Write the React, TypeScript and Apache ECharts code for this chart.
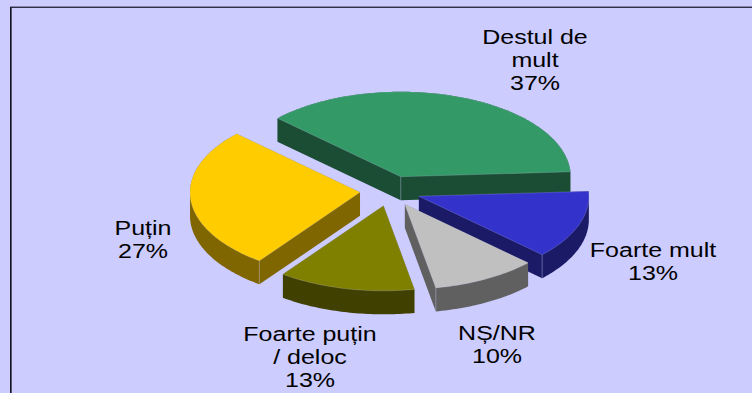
import React, { useEffect, useRef } from "react";
import * as echarts from "echarts";

const categories = ["Destul de\nmult", "Foarte mult", "NȘ/NR", "Foarte puțin\n/ deloc", "Puțin"];
const values = [37, 13, 10, 13, 27];
const topColors = ["#339966", "#3333CC", "#C0C0C0", "#808000", "#FFCC00"];
const sideColors = ["#1A4D33", "#1A1A66", "#606060", "#404000", "#806600"];
const labelAnchors = [[535, 60], [653, 262], [497, 345], [310, 357], [143, 240]];
const seamKinds = ["apex", "end", "end", "", "start"];
const drawOrder = [0, 4, 1, 3, 2];

const CX = 390.3, CY = 191, RX = 170, RY = 85, EXPLODE = 30.4, DEPTH = 23.5, START = 136.5;
const FONT_H = 20, STRETCH = 1.25;
const total = values.reduce((a, b) => a + b, 0);

function hull(points: number[][]) {
  const p = [...points].sort((a, b) => a[0] - b[0] || a[1] - b[1]);
  const cross = (o: number[], a: number[], b: number[]) =>
    (a[0] - o[0]) * (b[1] - o[1]) - (a[1] - o[1]) * (b[0] - o[0]);
  const lo: number[][] = [];
  for (const q of p) {
    while (lo.length >= 2 && cross(lo[lo.length - 2], lo[lo.length - 1], q) <= 0) lo.pop();
    lo.push(q);
  }
  const up: number[][] = [];
  for (let i = p.length - 1; i >= 0; i--) {
    const q = p[i];
    while (up.length >= 2 && cross(up[up.length - 2], up[up.length - 1], q) <= 0) up.pop();
    up.push(q);
  }
  return lo.slice(0, -1).concat(up.slice(0, -1));
}

function sliceGeometry(index: number) {
  let before = 0;
  for (let i = 0; i < index; i++) before += values[i];
  const a0 = START - (before / total) * 360;
  const a1 = a0 - (values[index] / total) * 360;
  const mid = ((a0 + a1) / 2) * (Math.PI / 180);
  const ox = CX + EXPLODE * Math.cos(mid);
  const oy = CY - EXPLODE * 0.5 * Math.sin(mid);
  const top: number[][] = [[ox, oy]];
  const steps = Math.max(8, Math.round(a0 - a1));
  for (let s = 0; s <= steps; s++) {
    const t = ((a0 + ((a1 - a0) * s) / steps) * Math.PI) / 180;
    top.push([ox + RX * Math.cos(t), oy - RY * Math.sin(t)]);
  }
  return { top };
}

export default function App() {
  const ref = useRef<HTMLDivElement>(null);
  useEffect(() => {
    const chart = echarts.init(ref.current!, undefined, { renderer: "svg" });
    chart.setOption({
      animation: false,
      backgroundColor: "#CCCCFF",
      graphic: [
        { type: "line", shape: { x1: 10, y1: 6.5, x2: 752, y2: 6.5 }, style: { stroke: "#8484AC", lineWidth: 1 } },
        { type: "line", shape: { x1: 10, y1: 7.5, x2: 752, y2: 7.5 }, style: { stroke: "#303048", lineWidth: 1 } },
        { type: "line", shape: { x1: 10.5, y1: 393, x2: 10.5, y2: 7 }, style: { stroke: "#14141E", lineWidth: 1 } },
        { type: "line", shape: { x1: 11.5, y1: 393, x2: 11.5, y2: 8 }, style: { stroke: "#55556E", lineWidth: 1 } },
      ],
      series: [
        {
          type: "custom",
          coordinateSystem: "none",
          data: drawOrder.map((i) => ({ name: categories[i], value: [i, values[i]] })),
          renderItem: (_p: any, api: any) => {
            const i = api.value(0) as number;
            const { top } = sliceGeometry(i);
            const bottom = top.map(([x, y]) => [x, y + DEPTH]);
            const [lx, ly] = labelAnchors[i];
            const kind = seamKinds[i];
            const seam = kind === "apex" ? top[0] : kind === "start" ? top[1] : kind === "end" ? top[top.length - 1] : null;
            const children: any[] = [
              { type: "polygon", shape: { points: hull(top.concat(bottom)) }, style: { fill: sideColors[i] } },
            ];
            if (seam) {
              children.push({
                type: "line",
                shape: { x1: seam[0], y1: seam[1], x2: seam[0], y2: seam[1] + DEPTH },
                style: { stroke: "rgba(204,204,255,0.4)", lineWidth: 1 },
              });
            }
            children.push(
              {
                type: "polygon",
                shape: { points: top },
                style: { fill: topColors[i], stroke: "rgba(204,204,255,0.3)", lineWidth: 0.75 },
              },
              {
                type: "text",
                x: lx,
                y: ly,
                scaleX: STRETCH,
                style: {
                  text: `${categories[i]}\n${values[i]}%`,
                  fill: "#000000",
                  font: `${FONT_H}px "Liberation Sans", Arial, sans-serif`,
                  lineHeight: 23,
                  align: "center",
                  verticalAlign: "middle",
                },
              }
            );
            return { type: "group", children };
          },
        },
      ],
    });
    return () => chart.dispose();
  }, []);
  return <div ref={ref} style={{ position: "fixed", left: 0, top: 0, width: 752, height: 393 }} />;
}
